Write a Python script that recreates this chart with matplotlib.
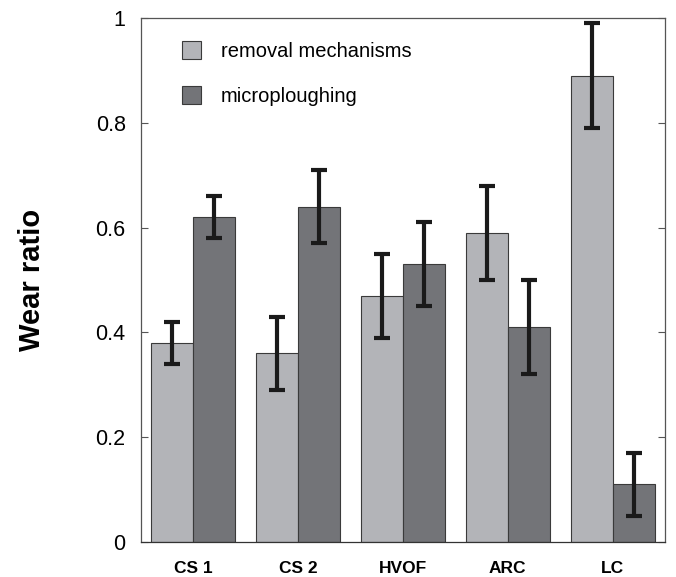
import numpy as np
import matplotlib
matplotlib.use("Agg")
import matplotlib.pyplot as plt

plt.rcParams['font.family'] = ['Liberation Sans', 'DejaVu Sans']

categories = ["CS 1", "CS 2", "HVOF", "ARC", "LC"]
removal = [0.38, 0.36, 0.47, 0.59, 0.89]
removal_err = [0.04, 0.07, 0.08, 0.09, 0.10]
plough = [0.62, 0.64, 0.53, 0.41, 0.11]
plough_err = [0.04, 0.07, 0.08, 0.09, 0.06]

light = '#b3b4b8'
dark = '#737478'
edge = '#3a3a3a'

fig = plt.figure(figsize=(6.76, 5.77), dpi=100)
ax = fig.add_axes([141 / 676, 35 / 577, 524 / 676, 524 / 577])

x = np.arange(len(categories))
w = 0.4
err_kw = dict(ecolor='#1a1a1a', elinewidth=3, capsize=5.5, capthick=3)
ax.bar(x - w / 2, removal, w, yerr=removal_err, color=light, edgecolor=edge,
       linewidth=0.8, error_kw=err_kw, label='removal mechanisms')
ax.bar(x + w / 2, plough, w, yerr=plough_err, color=dark, edgecolor=edge,
       linewidth=0.8, error_kw=err_kw, label='microploughing')

ax.set_xlim(-0.5, 4.5)
ax.set_ylim(0, 1)
ax.set_yticks([0, 0.2, 0.4, 0.6, 0.8, 1])
ax.set_yticklabels(['0', '0.2', '0.4', '0.6', '0.8', '1'], fontsize=15.5)
ax.set_xticks(x)
ax.set_xticklabels(categories, fontsize=12.5, fontweight='bold')
ax.tick_params(axis='x', length=0, pad=14)
ax.tick_params(axis='y', direction='in', length=5, width=0.8, color='#555555',
               right=True, pad=11)
for s in ax.spines.values():
    s.set_color('#555555')
    s.set_linewidth(0.9)
ax.spines['bottom'].set_color('#333333')

ax.set_ylabel('Wear ratio', fontsize=21, fontweight='bold', labelpad=36)

ax.legend(loc='upper left', bbox_to_anchor=(0.043, 0.99), frameon=False,
          fontsize=14.5, handlelength=0.95, handleheight=0.95, labelspacing=1.25,
          handletextpad=1.0)

fig.savefig('out.png', dpi=100)
